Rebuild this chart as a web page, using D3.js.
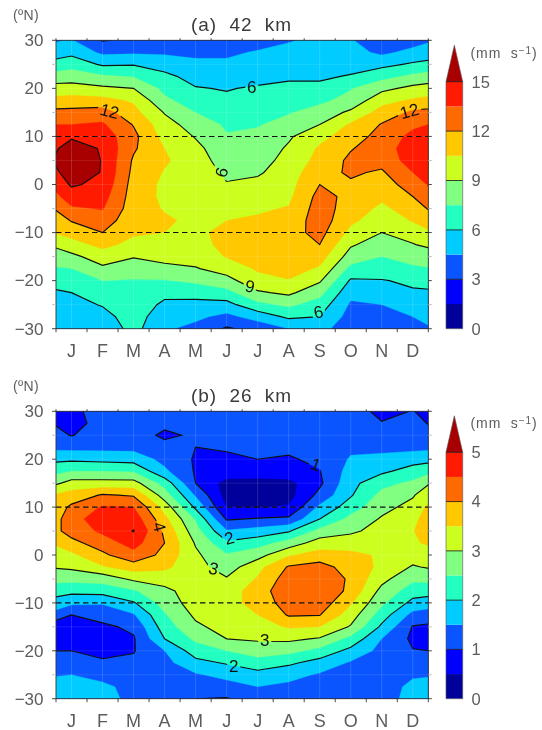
<!DOCTYPE html>
<html><head><meta charset="utf-8">
<script src="https://cdn.jsdelivr.net/npm/d3@7"></script>
<style>html,body{margin:0;padding:0;background:#fff}svg{display:block;filter:blur(0.35px)}text{font-family:"Liberation Sans",sans-serif}</style>
</head><body><svg id="c" width="542" height="730"></svg>
<script>
const months=["J","F","M","A","M","J","J","A","S","O","N","D"];
const latitudes=d3.range(30,-30.1,-2.5);
const latTicks=[30,20,10,0,-10,-20,-30];
const levelColors=["#00009a","#0000ff","#0a55ff","#00ccff","#22ffc0","#80ff80","#ccff20","#ffc800","#ff6a00","#ff1a00","#a80000"];
// speed by month (J..D), each from 30N to 30S in 2.5 degree steps
const speed42=[
[4.6,5.6,6.9,8.3,9.6,11.2,12.4,13.5,14.7,16,16.5,16,15.2,14.3,13.3,12.1,11,10,8.6,7.5,6.8,6,5.5,5.1,4.7],
[2.9,4.2,5.8,7.7,9.3,11,12.7,13.7,14.4,14.8,14.9,14.9,14.6,14.1,13.6,12.8,12,10.9,9.8,8.7,7.5,6.9,6.1,5.5,5],
[3.3,4.3,5.9,7.4,9,10.3,11,11.9,12.4,12.2,11.8,11.6,11.4,11.3,11.2,11,10.7,10.1,9.1,8.2,7.4,7,6.9,6.7,6.5],
[3.4,4.3,5.3,6.4,7.1,7.8,8.9,9.6,10,10.5,10.7,10.4,10.2,10.2,10.4,10.7,10.5,10.1,9.5,8.6,7.4,6.4,5.7,5.1,4.7],
[3.5,4.2,4.8,5.4,6.1,6.8,7.5,8.3,8.9,9.4,9.7,9.9,10,10,10.1,10.2,10.2,10,9.6,8.9,7.8,6.5,5.6,4.8,4.1],
[3.8,4.3,4.7,5.1,5.9,6.3,6.9,7.3,7.6,8,8.3,8.7,9.1,9.6,10,10.5,10.9,10.9,10.6,9.6,8.5,7,5.5,4.1,2.8],
[4,4.6,5,5.4,6.2,6.5,7,7.4,7.8,8.1,8.4,8.8,9.4,9.8,10.3,10.7,11,11.2,11.1,10.7,10,8.8,7.1,5.1,3.5],
[4.4,4.9,5.3,5.8,6.3,6.7,7.4,8,8.8,9.2,9.5,9.8,10,10.2,10.6,11,11.4,11.6,11.6,11.2,10.4,9.3,7.8,6.3,4.5],
[4.8,5.1,5.5,5.8,6.3,7.2,8.1,9,10.1,10.7,11,11.5,12,12.5,12.7,12.8,12.5,12,11.2,10.3,9.2,8,6.8,6,5],
[4.6,5,5.5,6.1,7.4,8,9.3,10.7,11.2,11.9,12.3,12.2,11.8,11.6,11.3,10.8,10.1,9.2,8.3,7.1,5.8,4.9,4.3,3.9,3.6],
[3.7,4.2,5.6,7,8.6,10,11.1,12.1,12.6,12.8,12.5,11.8,11.3,10.8,10.2,9.7,9,8.2,7.5,7,5.9,5.1,4.5,3.9,3.3],
[3.9,4.9,6.2,7.8,9.4,10.7,12.3,13.2,13.9,14.3,14.2,13.5,12.7,12,11.2,10.6,9.8,8.9,8.2,7.2,6.3,5.8,5.2,4.5,3.8]];
const before42=[4.2,4.8,6.3,7.9,9.6,10.8,12.4,13.5,13.9,13.6,14.1,13.4,12.8,12.1,11.1,10.3,10.2,8.8,8,7.3,6.4,5.6,5.1,4.7,4.5];
const after42=[4.7,5.3,6.8,8.4,9.8,11.3,12.5,13.8,14.1,14.5,14.8,14.9,14.5,14,13,11.8,10.8,9.9,8.4,7.6,6.9,5.8,5.4,4.9,4.8];
const speed26=[
[0.85,0.9,0.98,1.35,1.9,2.5,3.2,3.7,4.1,4.3,4.2,3.85,3.4,3.1,2.65,2.15,1.6,1,0.9,0.9,1,1.25,1.5,1.65,1.75],
[1.25,1.1,1.2,1.35,1.85,2.5,3.2,4.05,4.55,4.8,4.6,4.25,3.9,3.45,2.7,2.2,1.55,1.2,0.9,0.85,0.9,1.05,1.35,1.6,1.7],
[1.25,1.25,1.3,1.35,1.8,2.45,3.2,3.95,4.5,4.8,5.02,4.7,4.35,3.75,3.1,2.45,1.95,1.45,1.1,0.95,0.97,1.1,1.25,1.35,1.35],
[1.25,1.15,0.88,1.2,1.35,1.6,2.3,2.75,3.3,3.65,3.9,4,3.85,3.6,3.25,2.85,2.7,2.45,2.25,2,1.5,1.35,1.3,1.25,1.25],
[1.2,1.15,1.1,1,0.95,0.95,1,1.45,1.9,2.45,2.7,2.95,3.1,3.2,3.25,3.3,3.25,3.1,2.9,2.6,2.25,1.85,1.45,1.2,1],
[1.2,1.15,1.1,1.03,0.95,0.85,0.3,0.3,0.5,0.95,1.55,2.1,2.55,2.75,3.05,3.25,3.4,3.35,3.2,3,2.5,2.05,1.65,1.3,0.97],
[1.25,1.2,1.15,1.1,1,0.8,0.3,0.3,0.45,1.05,1.7,2.3,2.8,3.35,3.55,3.75,3.6,3.5,3.3,3.05,2.8,2.25,1.85,1.5,1.25],
[1.25,1.25,1.2,1.1,0.95,0.8,0.35,0.32,0.55,1.1,1.95,2.7,3.45,4.05,4.25,4.35,4.3,4.05,3.55,3.1,2.65,2.1,1.65,1.4,1.25],
[1.25,1.25,1.25,1.2,1.1,0.98,0.9,1.15,1.6,2,2.65,3.25,3.7,4.2,4.4,4.45,4.3,4.02,3.5,2.95,2.35,1.8,1.45,1.3,1.25],
[1.25,1.3,1.35,1.4,1.55,1.7,1.85,1.95,2.25,2.65,2.9,3.3,3.6,3.77,3.91,3.86,3.55,3.25,2.95,2.35,1.85,1.45,1.35,1.3,1.25],
[0.85,1.03,1.15,1.4,1.6,1.9,2.35,2.65,2.85,3.05,3.2,3.35,3.45,3.4,3.15,2.85,2.6,2.25,1.9,1.5,1.35,1.3,1.3,1.3,1.25],
[1.02,1.15,1.25,1.35,1.8,2.2,2.6,2.95,3.15,3.35,3.47,3.4,3.25,2.95,2.6,2.25,1.85,1.35,0.97,0.9,1.02,1.25,1.45,1.6,1.7]];
const before26=[0.85,1.06,1.24,1.41,1.8,2.4,2.6,3.4,3.4,3.4,3.6,3.35,3.2,3,2.65,2.25,1.9,1.5,0.96,0.9,1,1.25,1.44,1.65,1.75];
const after26=[0.68,0.81,0.99,1.41,1.9,2.6,3.3,3.65,4.05,4.15,4.23,3.8,3.35,3.15,2.7,2.15,1.65,1.15,0.89,0.9,0.98,1.25,1.49,1.7,1.8];
const levels42=[1.5,3,4.5,6,7.5,9,10.5,12,13.5,15];
const levels26=[0.5,1,1.5,2,2.5,3,3.5,4,4.5,5];
const lines42=[3,6,9,12,15];
const lines26=[1,2,3,4,5];
const barTicks42=[0,3,6,9,12,15];
const barTicks26=[0,1,2,3,4,5];
const labels42=[[1.73,15.3,"12",15],[6.31,20.4,"6",0],[5.35,2.5,"9",105],[11.39,15.3,"12",-15],[6.25,-21.1,"9",10],[8.46,-26.5,"6",-12]];
const labels26=[[8.37,18.9,"1",20],[3.34,5.9,"4",75],[5.58,3.6,"2",-15],[5.08,-2.8,"3",15],[6.73,-17.7,"3",0],[5.73,-23.2,"2",0]];
const textCol="#5c5c5c";
const svg=d3.select("#c");
const defs=svg.append("defs");
function panel(id,o){
 const x=d3.scaleLinear().domain([0,12]).range([56,428.3]);
 const y=d3.scaleLinear().domain([30,-30]).range([o.top,o.bottom]);
 const nr=latitudes.length;
 const cols=[o.before,...o.data,o.after];
 const grid=[];
 for(let r=0;r<nr;r++)for(let c=0;c<cols.length;c++)grid.push(cols[c][r]);
 const contours=d3.contours().size([cols.length,nr]);
 const latOf=d3.scaleLinear().domain([0.5,nr-0.5]).range([30,-30]);
 const path=d3.geoPath(d3.geoTransform({point(px,py){this.stream.point(x(px-1),y(latOf(py)));}}));
 defs.append("clipPath").attr("id","clip"+id).append("rect").attr("x",x(0)).attr("y",y(30)).attr("width",x(12)-x(0)).attr("height",y(-30)-y(30));
 const mask=defs.append("mask").attr("id","mask"+id).attr("maskUnits","userSpaceOnUse").attr("x",0).attr("y",0).attr("width",542).attr("height",730);
 mask.append("rect").attr("width",542).attr("height",730).attr("fill","#fff");
 const g=svg.append("g").attr("clip-path",`url(#clip${id})`);
 g.append("rect").attr("x",x(0)).attr("y",y(30)).attr("width",x(12)-x(0)).attr("height",y(-30)-y(30)).attr("fill",levelColors[0]);
 o.levels.forEach((lv,i)=>{g.append("path").datum(contours.contour(grid,lv)).attr("d",path).attr("fill",levelColors[i+1]).attr("stroke",levelColors[i+1]).attr("stroke-width",0.3);});
 months.forEach((m,i)=>g.append("line").attr("x1",x(i+.5)).attr("x2",x(i+.5)).attr("y1",y(30)).attr("y2",y(-30)).attr("stroke","#fff").attr("stroke-opacity",.22).attr("stroke-width",.7));
 d3.range(-25,30,5).forEach(l=>g.append("line").attr("x1",x(0)).attr("x2",x(12)).attr("y1",y(l)).attr("y2",y(l)).attr("stroke","#fff").attr("stroke-opacity",.15).attr("stroke-width",.7));
 o.labels.forEach(([m,l,t,r])=>{const w=t.length>1?24:13;mask.append("rect").attr("x",-w/2).attr("y",-9).attr("width",w).attr("height",18).attr("fill","#000").attr("transform",`translate(${x(m)},${y(l)}) rotate(${r})`);});
 const lg=g.append("g").attr("mask",`url(#mask${id})`);
 o.lines.forEach(lv=>lg.append("path").datum(contours.contour(grid,lv)).attr("d",path).attr("fill","none").attr("stroke","#111").attr("stroke-width",1.15));
 [10,-10].forEach(l=>g.append("line").attr("x1",x(0)).attr("x2",x(12)).attr("y1",y(l)).attr("y2",y(l)).attr("stroke","#111").attr("stroke-width",1.1).attr("stroke-dasharray","5.5,3.5"));
 o.labels.forEach(([m,l,t,r])=>{svg.append("text").attr("transform",`translate(${x(m)},${y(l)}) rotate(${r})`).attr("text-anchor","middle").attr("dy","0.36em").attr("font-size",17).attr("fill","#111").text(t);});
 svg.append("rect").attr("x",x(0)).attr("y",y(30)).attr("width",x(12)-x(0)).attr("height",y(-30)-y(30)).attr("fill","none").attr("stroke","#333").attr("stroke-width",.9);
 const tick=(a,b,c,d,col,w)=>svg.append("line").attr("x1",a).attr("y1",b).attr("x2",c).attr("y2",d).attr("stroke",col||"#333").attr("stroke-width",w||.9);
 d3.range(0,13).forEach(i=>{tick(x(i),y(-30),x(i),y(-30)+3.5);tick(x(i),y(30),x(i),y(30)-2);});
 d3.range(-30,31,10).forEach(l=>{tick(x(0)-4,y(l),x(0),y(l));tick(x(12),y(l),x(12)+3.5,y(l));});
 d3.range(-25,30,10).forEach(l=>{tick(x(0)-4,y(l),x(0),y(l),"#bbb");tick(x(12),y(l),x(12)+3.5,y(l),"#bbb");});
 latTicks.forEach(l=>svg.append("text").attr("x",43.5).attr("y",y(l)+5.8).attr("text-anchor","end").attr("font-size",17).attr("fill",textCol).text(l<0?"\u2212"+(-l):l));
 months.forEach((m,i)=>svg.append("text").attr("x",x(i+.5)).attr("y",o.bottom+28).attr("text-anchor","middle").attr("font-size",18).attr("fill",textCol).text(m));
 svg.append("text").attr("x",241.5).attr("y",o.top-9.5).attr("text-anchor","middle").attr("font-size",19).attr("fill","#3a3a3a").attr("word-spacing","6px").attr("letter-spacing","1px").text(o.title);
 svg.append("text").attr("x",13).attr("y",o.top-20.5).attr("font-size",14).attr("fill",textCol).attr("letter-spacing",".4px").text("(\u00baN)");
 const max=o.levels[o.levels.length-1];
 const bx=446,bw=16.7;
 const b=d3.scaleLinear().domain([0,max]).range([o.bottom,o.barTop]);
 [0,...o.levels].forEach((lv,i)=>{ if(i<o.levels.length) svg.append("rect").attr("x",bx).attr("width",bw).attr("y",b(o.levels[i])).attr("height",b(lv)-b(o.levels[i])).attr("fill",levelColors[i]);});
 svg.append("path").attr("d",`M${bx},${o.barTop}L${bx+bw/2},${o.barTop-36.5}L${bx+bw},${o.barTop}Z`).attr("fill",levelColors[10]);
 o.barTicks.forEach(t=>{ if(t>0) svg.append("line").attr("x1",bx).attr("x2",bx+bw).attr("y1",b(t)).attr("y2",b(t)).attr("stroke","#111").attr("stroke-width",.8);
   svg.append("text").attr("x",471.5).attr("y",b(t)+5.8).attr("font-size",16.5).attr("fill",textCol).text(t);});
 svg.append("path").attr("d",`M${bx},${o.bottom}V${o.barTop}L${bx+bw/2},${o.barTop-36.5}L${bx+bw},${o.barTop}V${o.bottom}Z`).attr("fill","none").attr("stroke","#555").attr("stroke-width",.6);
 const u=svg.append("text").attr("x",470.5).attr("y",o.barTop-24).attr("font-size",14).attr("fill",textCol).attr("letter-spacing",".95px").attr("word-spacing","4.5px");
 u.append("tspan").text("(mm s");
 u.append("tspan").attr("dy",-4).attr("font-size",10).text("\u22121");
 u.append("tspan").attr("dy",4).text(")");
}
panel("a",{top:40.3,bottom:328.7,barTop:81.7,data:speed42,before:before42,after:after42,levels:levels42,lines:lines42,labels:labels42,barTicks:barTicks42,title:"(a) 42 km"});
panel("b",{top:411.3,bottom:698.7,barTop:452.3,data:speed26,before:before26,after:after26,levels:levels26,lines:lines26,labels:labels26,barTicks:barTicks26,title:"(b) 26 km"});
</script></body></html>
